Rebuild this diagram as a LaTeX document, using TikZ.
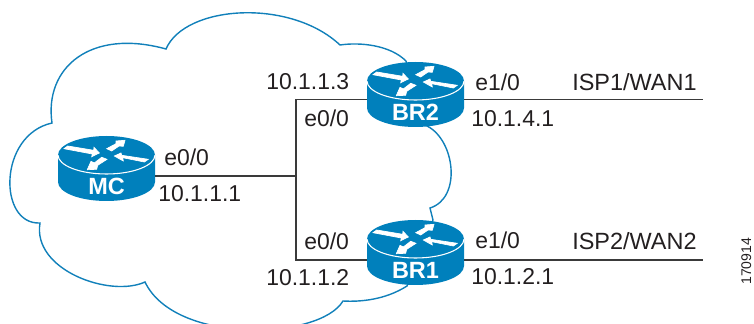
\documentclass[tikz,border=0pt]{standalone}
\usepackage{fontspec}
\setmainfont{Liberation Sans}
\definecolor{ciscoblue}{HTML}{0080BC}
\definecolor{cloudblue}{HTML}{1180BA}
\definecolor{inkdark}{HTML}{231F20}
\definecolor{wire}{HTML}{3A3A3A}
\tikzset{
  x=0.75pt,y=-0.75pt,
  lbl/.style={anchor=base west,inner sep=0pt,text=inkdark,font=\fontsize{17.2pt}{20pt}\selectfont},
  isplbl/.style={lbl,font=\fontsize{17.6pt}{20pt}\selectfont},
  routerlbl/.style={anchor=base,inner sep=0pt,text=white,font=\fontsize{17.6pt}{20pt}\selectfont\bfseries},
  routerbox/.style={rectangle,inner sep=0pt,minimum width=72.75pt,minimum height=37.5pt},
  wireline/.style={draw=wire,line width=0.8pt},
  cloudline/.style={draw=cloudblue,line width=1.05pt,line join=miter},
  rarrow/.style={fill=white,draw=white,line width=0.5pt,line join=miter},
  routerpic/.pic={
    \fill[ciscoblue] (-48.5,0) -- (-48.5,27) arc[x radius=48.5,y radius=19,start angle=180,end angle=0] -- (48.5,0) arc[x radius=48.5,y radius=19,start angle=0,end angle=-180] -- cycle;
    \draw[white,line width=0.8pt] (-48.5,0) arc[x radius=48.5,y radius=19,start angle=180,end angle=0];
    \path[rarrow] (-42.5,-6.3) -- (-38.8,-9) -- (-12.8,-4.7) -- (-12.5,-7.7) -- (-7.2,-2) -- (-14.8,1.7) -- (-14.2,-1) -- cycle;
    \path[rarrow] (0.2,-6.3) -- (9.5,-11.3) -- (9.5,-14) -- (18.5,-14.7) -- (16.8,-8.7) -- (12.5,-9) -- (5.2,-4) -- cycle;
    \path[rarrow] (41.8,4.3) -- (37.8,7) -- (16.2,2.7) -- (16.8,6) -- (7.8,1) -- (14.5,-2) -- (15.2,0.3) -- cycle;
    \path[rarrow] (0.5,4.3) -- (-4.8,2.3) -- (-12.2,8) -- (-15.5,6.3) -- (-19.2,14.7) -- (-9.8,14.3) -- (-8.8,10.3) -- cycle;
  }
}
\begin{document}
\begin{tikzpicture}
\useasboundingbox (0,0) rectangle (754,324);
\clip (0,0) rectangle (754,324);
% cloud
\draw[cloudline] (52,123)
  .. controls (44,68) and (90,28) .. (166,49)
  .. controls (185,5) and (290,-2) .. (340,45)
  .. controls (360,42) and (390,45) .. (406,61)
  -- (427,126)
  .. controls (455,140) and (462,198) .. (430,208)
  -- (433,220) -- (407,286)
  .. controls (385,300) and (360,302) .. (343,301)
  .. controls (320,340) and (175,345) .. (145,282)
  .. controls (110,298) and (32,270) .. (40,223)
  .. controls (-2,225) and (-2,135) .. cycle;
% routers
\pic at (106.5,155) {routerpic};
\pic at (415.5,81) {routerpic};
\pic at (415.5,239) {routerpic};
\node[routerbox] (MC) at (106.5,176) {};
\node[routerbox] (BR2) at (415.5,99.5) {};
\node[routerbox] (BR1) at (415.5,260) {};
\node[routerlbl] (MCt) at (106.5,195) {MC};
\node[routerlbl] (BR2t) at (415.5,121) {BR2};
\node[routerlbl] (BR1t) at (415.5,279) {BR1};
% connectors
\coordinate (jm) at (296,176);
\coordinate (jt) at (296,99.5);
\coordinate (jb) at (296,260);
\coordinate (isp1) at (703,99.5);
\coordinate (isp2) at (703,260);
\draw[wireline] (MC.east) -- (jm);
\draw[wireline] (BR2.west) -- (jt) -- (jb) -- (BR1.west);
\draw[wireline] (BR2.east) -- (isp1);
\draw[wireline] (BR1.east) -- (isp2);
% labels
\node[lbl] (a1) at (164,166) {e0/0};
\node[lbl] (a2) at (158,202) {10.1.1.1};
\node[lbl] (a3) at (266,90) {10.1.1.3};
\node[lbl] (a4) at (304,127) {e0/0};
\node[lbl] (a5) at (304,250) {e0/0};
\node[lbl] (a6) at (266,286) {10.1.1.2};
\node[lbl] (a7) at (475,91) {e1/0};
\node[lbl] (a8) at (471,127) {10.1.4.1};
\node[isplbl] (a9) at (572,91) {ISP1/WAN1};
\node[lbl] (a10) at (475,249) {e1/0};
\node[lbl] (a11) at (471,285) {10.1.2.1};
\node[isplbl] (a12) at (572,250) {ISP2/WAN2};
\node[anchor=base west,inner sep=0pt,text=inkdark,rotate=90,font=\fontsize{10.5pt}{12pt}\selectfont] (fig) at (751,285) {170914};
\end{tikzpicture}
\end{document}
